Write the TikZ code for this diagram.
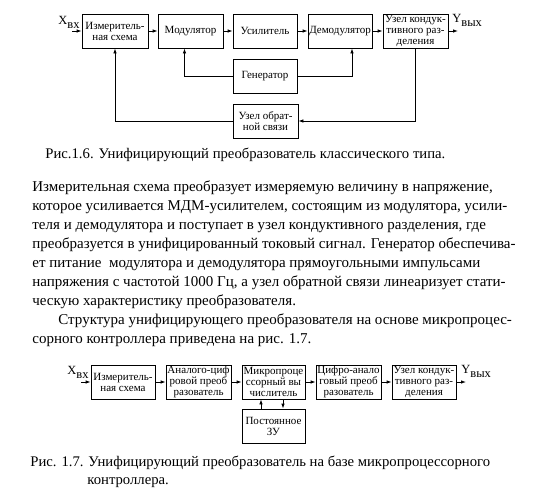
\documentclass[tikz,border=0pt]{standalone}
\usepackage{fontspec}
\setmainfont{Liberation Serif}
\usetikzlibrary{arrows.meta,positioning}
\newcommand{\lowsub}[1]{\raisebox{-4pt}{#1}}

\begin{document}
\begin{tikzpicture}[x=1pt,y=-1pt,font=\fontsize{11}{11}\selectfont,>={Latex[length=5pt,width=3.5pt]},
    line width=0.8pt,
    blk/.style={draw=black, fill=white, align=center, inner sep=0.5pt,
                minimum width=64pt, minimum height=34pt},
    lbl/.style={inner sep=0pt, font=\fontsize{12.5}{12.5}\selectfont},
    txt/.style={inner sep=0pt, align=left, font=\fontsize{15}{19}\selectfont},
    capt/.style={inner sep=0pt, align=left, font=\fontsize{14.7}{18}\selectfont}]
  \useasboundingbox (0,0) rectangle (556,498);
  % ---- fig. 1.6 ----
  \node[blk, minimum width=66pt] (b1) at (115,31) {Измеритель-\\ная схема};
  \node[blk, minimum width=65pt] (b2) at (190.5,31) {Модулятор};
  \node[blk] (b3) at (265,31) {Усилитель};
  \node[blk] (b4) at (340,31) {Демодулятор};
  \node[blk, minimum width=65pt] (b5) at (415.5,31) {Узел кондук-\\тивного раз-\\деления};
  \node[blk] (gen) at (265,76) {Генератор};
  \node[blk, minimum width=65pt] (fb) at (265.5,121) {Узел обрат-\\ной связи};
  \node[lbl, anchor=west] (xin) at (58,22) {X\lowsub{вх}};
  \node[lbl, anchor=west] (yout) at (452,20) {Y\lowsub{вых}};
  \coordinate (xa) at (72,31);
  \coordinate (ya) at (458,31);
  \draw[->] (xa) -- (b1);
  \draw[->] (b1) -- (b2);
  \draw[->] (b2) -- (b3);
  \draw[->] (b3) -- (b4);
  \draw[->] (b4) -- (b5);
  \draw[->] (b5) -- (ya);
  \draw[->] (gen.west) -| ([xshift=-6pt]b2.south);
  \draw[->] (gen.east) -| ([xshift=12pt]b4.south);
  \draw[->] (b5.south) |- (fb.east);
  \draw[->] (fb.west) -| (b1.south);
  \node[capt, anchor=west] (cap1) at (45,155)
    {Рис.1.6. Унифицирующий преобразователь классического типа.};
  % ---- text ----
  \node[txt, anchor=north west] (par) at (32,180)
    {Измерительная схема преобразует измеряемую величину в напряжение,\\
     которое усиливается МДМ-усилителем, состоящим из модулятора, усили-\\
     теля и демодулятора и поступает в узел кондуктивного разделения, где\\
     преобразуется в унифицированный токовый сигнал. Генератор обеспечива-\\
     ет питание\ \ модулятора и демодулятора прямоугольными импульсами\\
     напряжения с частотой 1000 Гц, а узел обратной связи линеаризует стати-\\
     ческую характеристику преобразователя.\\
     \hspace*{26pt}Структура унифицирующего преобразователя на основе микропроцес-\\
     сорного контроллера приведена на рис. 1.7.};
  % ---- fig. 1.7 ----
  \node[blk] (c1) at (123,382) {Измеритель-\\ная схема};
  \node[blk, minimum width=65pt] (c2) at (198.5,382) {Аналого-циф\\ровой преоб\\разователь};
  \node[blk, minimum width=63pt] (c3) at (273.5,382) {Микропроце\\ссорный вы\\числитель};
  \node[blk, minimum width=65pt] (c4) at (348.5,382) {Цифро-анало\\говый преоб\\разователь};
  \node[blk] (c5) at (424,382) {Узел кондук-\\тивного раз-\\деления};
  \node[blk, minimum width=63pt] (pzu) at (273.5,426) {Постоянное\\ЗУ};
  \node[lbl, anchor=west] (xin2) at (67,372) {X\lowsub{вх}};
  \node[lbl, anchor=west] (yout2) at (461,371) {Y\lowsub{вых}};
  \coordinate (xa2) at (81,382);
  \coordinate (ya2) at (466,382);
  \draw[->] (xa2) -- (c1);
  \draw[->] (c1) -- (c2);
  \draw[->] (c2) -- (c3);
  \draw[->] (c3) -- (c4);
  \draw[->] (c4) -- (c5);
  \draw[->] (c5) -- (ya2);
  \draw[->] ([xshift=-12.5pt]pzu.north) -- ([xshift=-12.5pt]c3.south);
  \draw[->] ([xshift=9.5pt]c3.south) -- ([xshift=9.5pt]pzu.north);
  \node[capt, anchor=west] (cap2) at (30,472)
    {Рис. 1.7. Унифицирующий преобразователь на базе микропроцессорного\\
     \hspace*{57pt}контроллера.};
\end{tikzpicture}
\end{document}
